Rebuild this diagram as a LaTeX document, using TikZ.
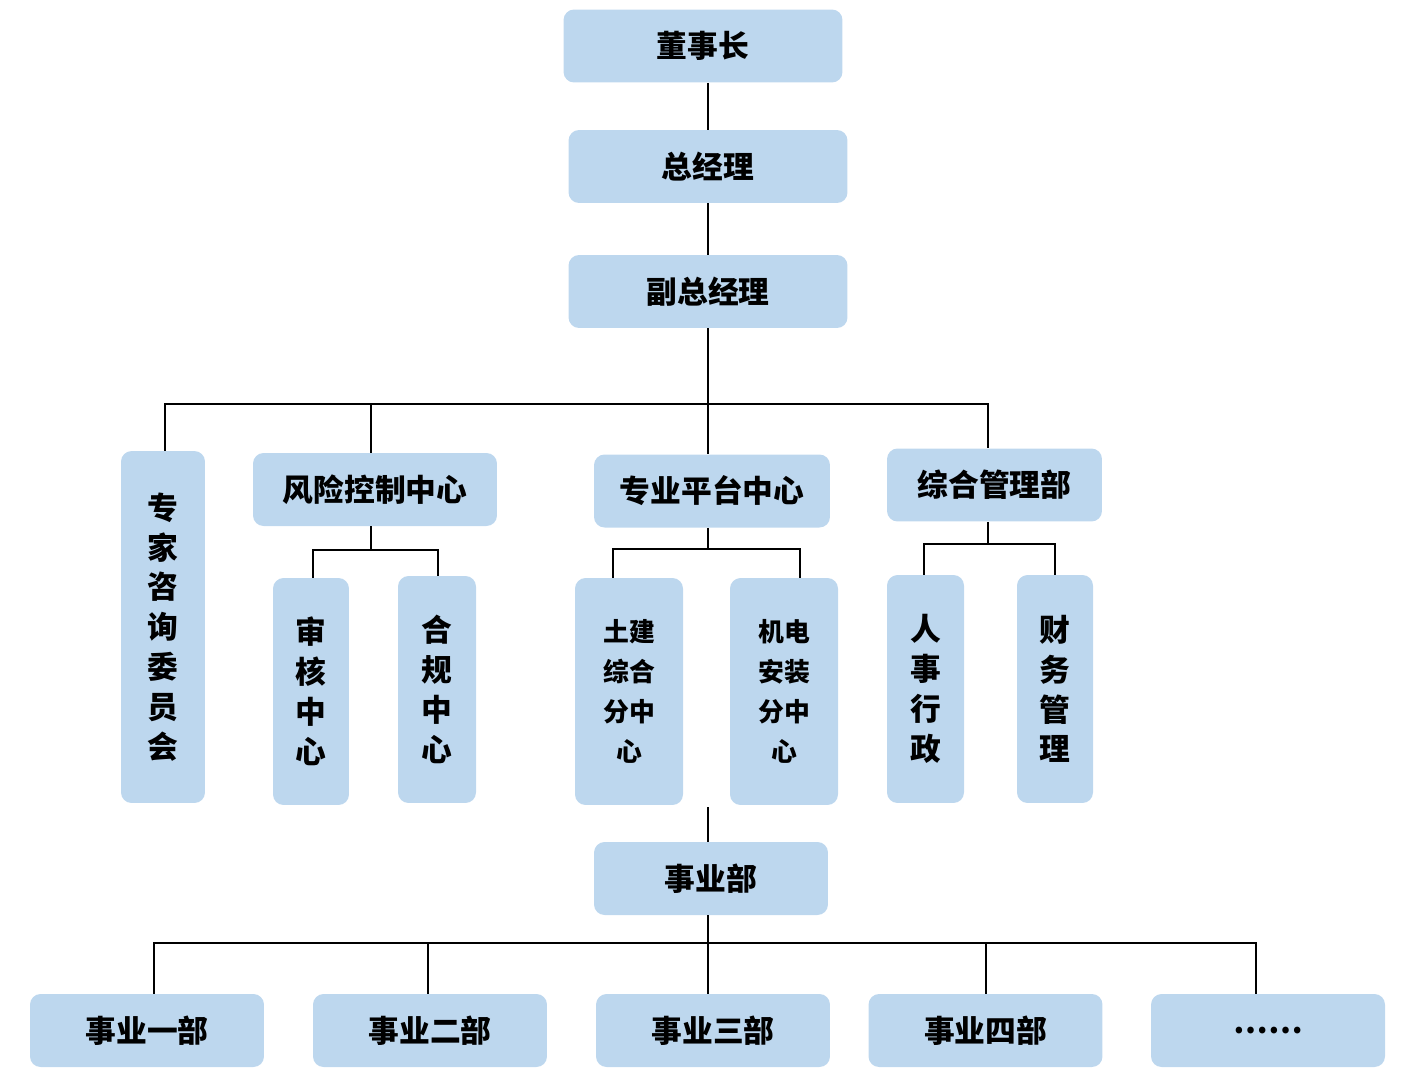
\documentclass[tikz,border=0pt]{standalone}
\usepackage{fontspec}
\newfontfamily\cjk{Noto Sans CJK SC}
\usepackage{xcolor}
\usepackage{tikz}
\usetikzlibrary{positioning,calc}

\definecolor{boxblue}{RGB}{189,215,238}

\begin{document}
\begin{tikzpicture}[
  x=0.02cm, y=-0.02cm,
  box/.style={fill=boxblue, rounded corners=6pt, inner sep=0pt, align=center,
    font=\cjk\bfseries\fontsize{17.5pt}{22.7pt}\selectfont},
  hbox/.style={box, minimum height=1.46cm},
  vbox/.style={box, minimum height=4.54cm},
  link/.style={line width=1.15pt, black},
]
\useasboundingbox (0,0) rectangle (1422,1088);

% top chain
\node[hbox, minimum width=5.58cm] (dsz) at (703,46) {董事长};
\node[hbox, minimum width=5.58cm] (zjl) at (708,166.5) {总经理};
\node[hbox, minimum width=5.58cm] (fzjl) at (708,291.5) {副总经理};

% second level
\node[box, minimum width=1.68cm, minimum height=7.04cm] (zjzx) at (163,627) {专\\家\\咨\\询\\委\\员\\会};
\node[hbox, minimum width=4.88cm] (fxkz) at (375,489.5) {风险控制中心};
\node[hbox, minimum width=4.72cm] (zypt) at (712,491) {专业平台中心};
\node[hbox, minimum width=4.30cm] (zhgl) at (994.5,485) {综合管理部};

% third level
\node[vbox, minimum width=1.52cm] (shzx) at (311,691.5) {审\\核\\中\\心};
\node[vbox, minimum width=1.56cm] (hgzx) at (437,689.5) {合\\规\\中\\心};
\node[vbox, minimum width=2.16cm, font=\cjk\bfseries\fontsize{14.7pt}{22.7pt}\selectfont] (tjzh) at (629,691.5) {土建\\综合\\分中\\心};
\node[vbox, minimum width=2.16cm, font=\cjk\bfseries\fontsize{14.7pt}{22.7pt}\selectfont] (jdaz) at (784,691.5) {机电\\安装\\分中\\心};
\node[vbox, minimum width=1.54cm, minimum height=4.56cm] (rsxz) at (925.5,689) {人\\事\\行\\政};
\node[vbox, minimum width=1.52cm, minimum height=4.56cm] (cwgl) at (1055,689) {财\\务\\管\\理};

% business units
\node[hbox, minimum width=4.68cm] (syb) at (711,878.5) {事业部};
\node[hbox, minimum width=4.68cm] (sy1) at (147,1030.5) {事业一部};
\node[hbox, minimum width=4.68cm] (sy2) at (430,1030.5) {事业二部};
\node[hbox, minimum width=4.68cm] (sy3) at (713,1030.5) {事业三部};
\node[hbox, minimum width=4.68cm] (sy4) at (985.5,1030.5) {事业四部};
\node[hbox, minimum width=4.68cm] (sy5) at (1268,1030.5) {……};

\coordinate (bus1) at (708,404);
\coordinate (bus2) at (708,943);
\coordinate (gap) at (708,807);

\draw[link] (dsz.south -| zjl) -- (zjl.north);
\draw[link] (zjl.south) -- (fzjl.north);
\draw[link] (fzjl.south) -- (fzjl.south |- zypt.north);
\draw[link] ([xshift=0.04cm]zjzx.north) |- (bus1) -| ([xshift=-0.13cm]zhgl.north);
\draw[link] ([xshift=-0.08cm]fxkz.north) -- ([xshift=-0.08cm]fxkz.north |- bus1);

\draw[link] ([xshift=-0.08cm]fxkz.south) -- ++(0,24) -| ([xshift=0.04cm]shzx.north);
\draw[link] ([xshift=-0.08cm]fxkz.south) ++(0,24) -| ([xshift=0.02cm]hgzx.north);
\draw[link] (zypt.south -| fzjl) -- ++(0,21) -| ([xshift=-0.32cm]tjzh.north);
\draw[link] (zypt.south -| fzjl) ++(0,21) -| ([xshift=0.32cm]jdaz.north);
\draw[link] ([xshift=-0.13cm]zhgl.south) -- ++(0,22) -| ([xshift=-0.03cm]rsxz.north);
\draw[link] ([xshift=-0.13cm]zhgl.south) ++(0,22) -| (cwgl.north);

\draw[link] (gap) -- (gap |- syb.north);
\draw[link] (bus2 |- syb.south) -- (bus2 |- sy3.north);
\draw[link] ([xshift=0.14cm]sy1.north) |- (bus2) -| ([xshift=-0.24cm]sy5.north);
\draw[link] ([xshift=-0.04cm]sy2.north) -- ([xshift=-0.04cm]sy2.north |- bus2);
\draw[link] (sy4.north) -- (sy4.north |- bus2);
\end{tikzpicture}
\end{document}
